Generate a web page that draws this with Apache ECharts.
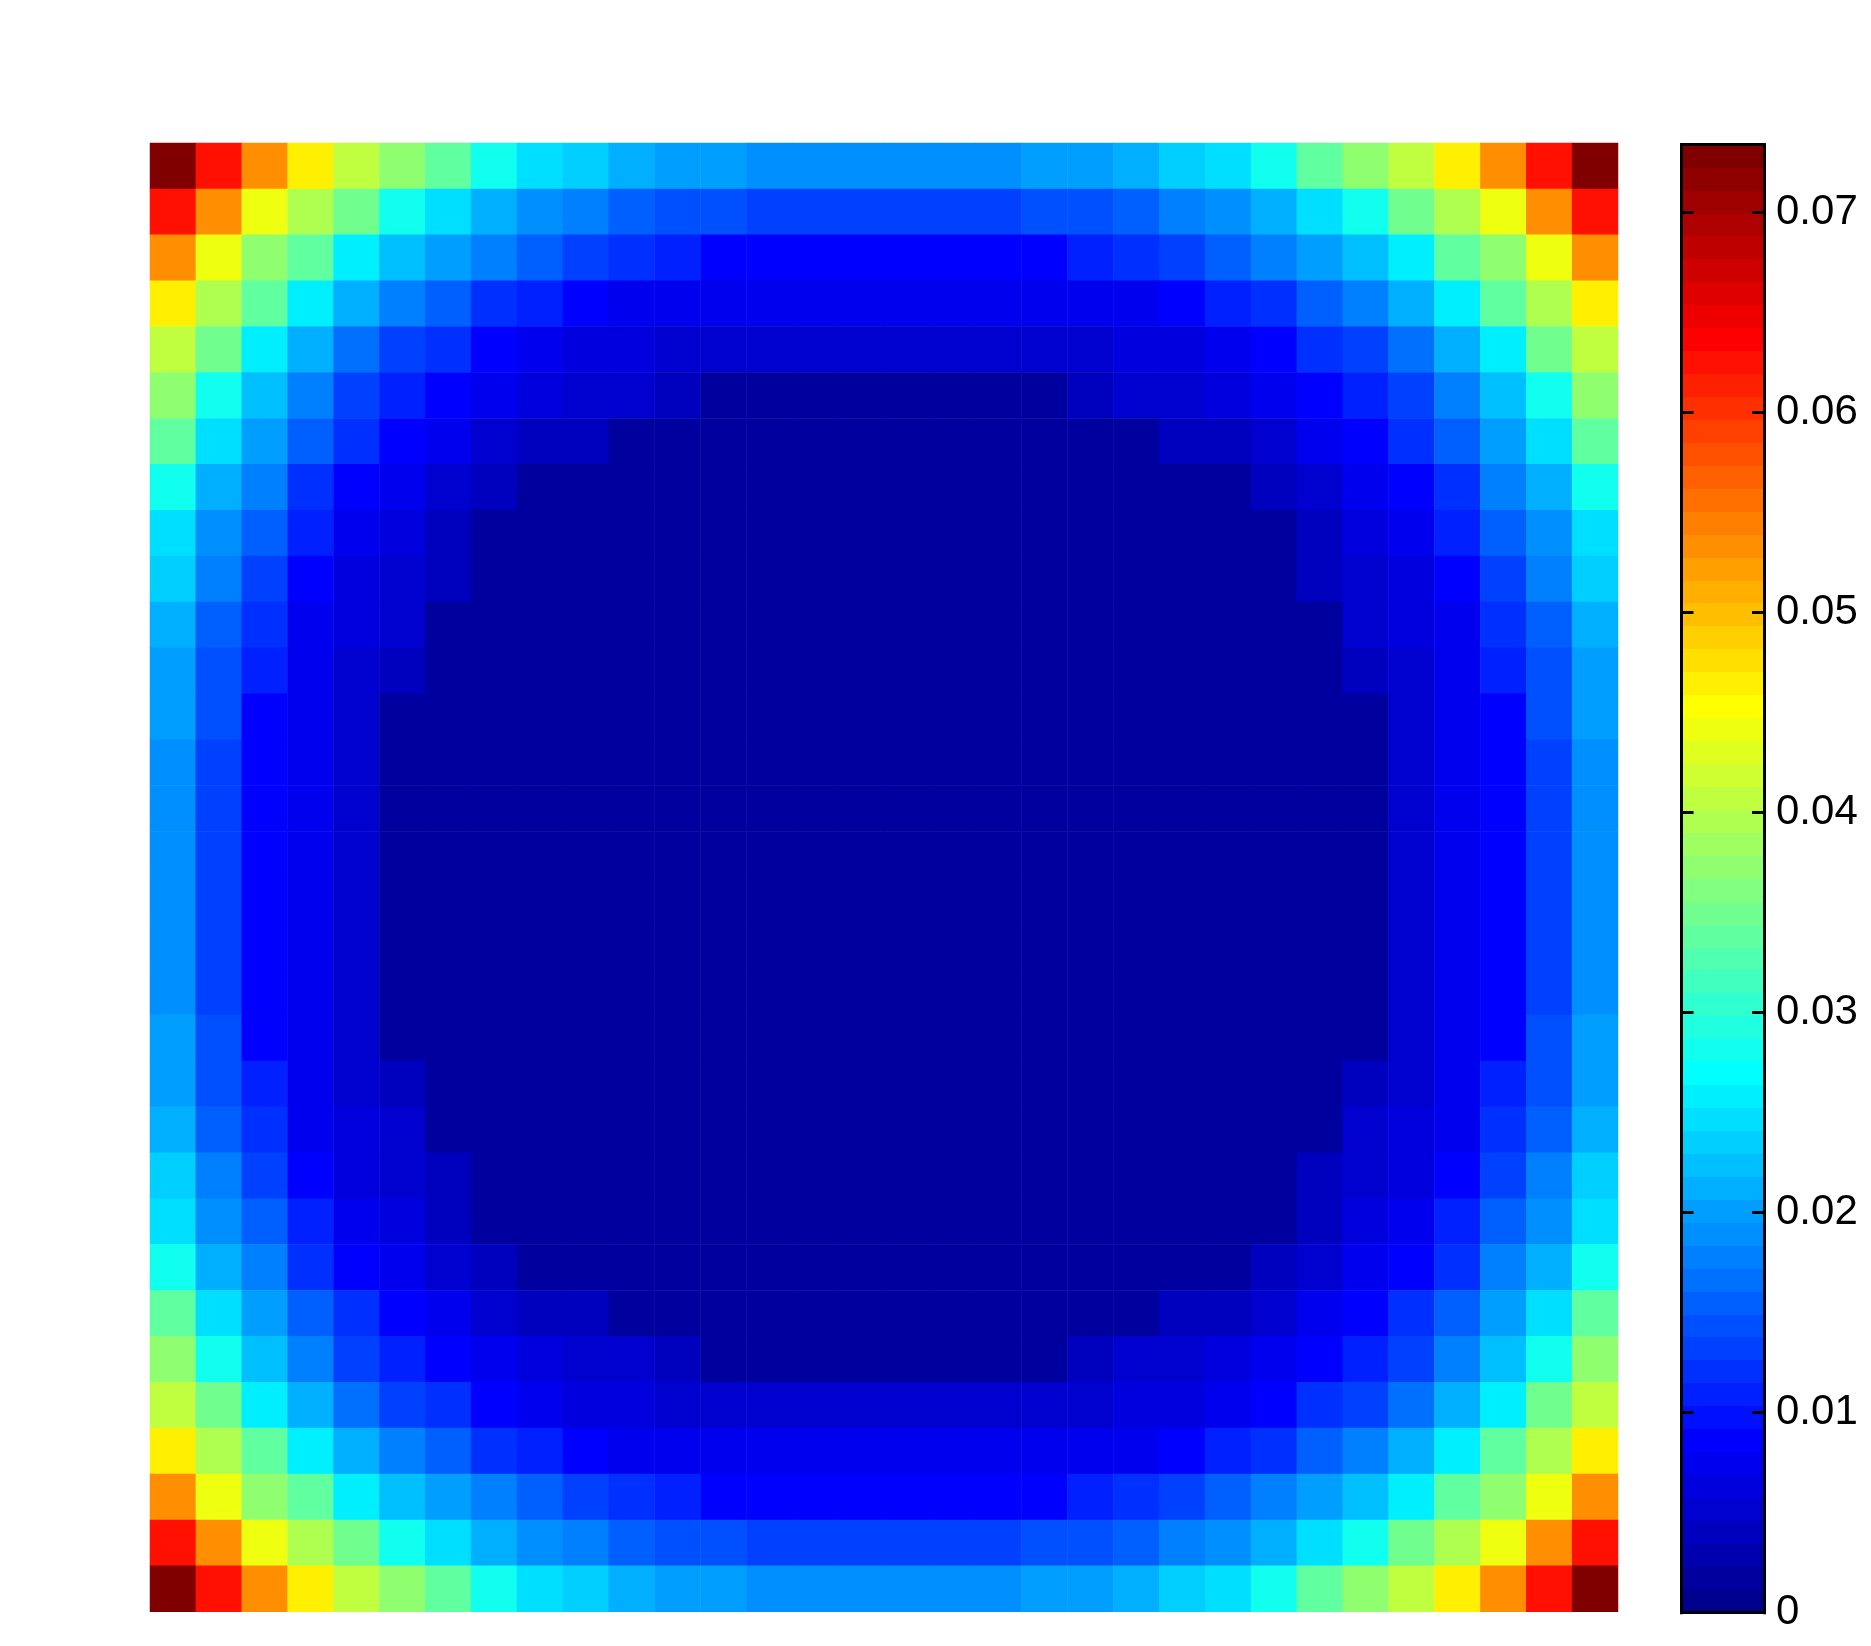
<!DOCTYPE html>
<html>
<head>
<meta charset="utf-8">
<title>Field</title>
<script src="https://cdn.jsdelivr.net/npm/echarts@6/dist/echarts.min.js"></script>
<style>
  html, body { margin: 0; padding: 0; background: #fff; }
  #chart { width: 1871px; height: 1646px; }
</style>
</head>
<body>
<div id="chart"></div>
<script>
// jet(64)
const jetColors = [
  "#00008f","#00009f","#0000af","#0000bf","#0000cf","#0000df","#0000ef","#0000ff",
  "#0010ff","#0020ff","#0030ff","#0040ff","#0050ff","#0060ff","#0070ff","#0080ff",
  "#008fff","#009fff","#00afff","#00bfff","#00cfff","#00dfff","#00efff","#00ffff",
  "#10ffef","#20ffdf","#30ffcf","#40ffbf","#50ffaf","#60ff9f","#70ff8f","#80ff80",
  "#8fff70","#9fff60","#afff50","#bfff40","#cfff30","#dfff20","#efff10","#ffff00",
  "#ffef00","#ffdf00","#ffcf00","#ffbf00","#ffaf00","#ff9f00","#ff8f00","#ff8000",
  "#ff7000","#ff6000","#ff5000","#ff4000","#ff3000","#ff2000","#ff1000","#ff0000",
  "#ef0000","#df0000","#cf0000","#bf0000","#af0000","#9f0000","#8f0000","#800000"
];
const colorMax = 0.0734;
const tickValues = [0, 0.01, 0.02, 0.03, 0.04, 0.05, 0.06, 0.07];
const cellIndex = ["0","1","2","3","4","5","6","7","8","9","10","11","12","13","14","15","16","17","18","19","20","21","22","23","24","25","26","27","28","29","30","31"];

// row 0 is the top row
const fieldRows = [
  [.0728,.0625,.0533,.0465,.0407,.0373,.0338,.0281,.0247,.0235,.0212,.0201,.0201,.0189,.0189,.0189,.0189,.0189,.0189,.0201,.0201,.0212,.0235,.0247,.0281,.0338,.0373,.0407,.0465,.0533,.0625,.0728],
  [.0625,.0533,.0442,.0396,.0350,.0281,.0247,.0212,.0189,.0178,.0155,.0143,.0143,.0132,.0132,.0132,.0132,.0132,.0132,.0143,.0143,.0155,.0178,.0189,.0212,.0247,.0281,.0350,.0396,.0442,.0533,.0625],
  [.0533,.0442,.0373,.0338,.0258,.0224,.0201,.0178,.0155,.0132,.0120,.0109,.0086,.0086,.0086,.0086,.0086,.0086,.0086,.0086,.0109,.0120,.0132,.0155,.0178,.0201,.0224,.0258,.0338,.0373,.0442,.0533],
  [.0465,.0396,.0338,.0258,.0212,.0178,.0155,.0120,.0109,.0086,.0075,.0075,.0075,.0075,.0075,.0075,.0075,.0075,.0075,.0075,.0075,.0075,.0086,.0109,.0120,.0155,.0178,.0212,.0258,.0338,.0396,.0465],
  [.0407,.0350,.0258,.0212,.0166,.0132,.0120,.0086,.0075,.0063,.0063,.0052,.0052,.0052,.0052,.0052,.0052,.0052,.0052,.0052,.0052,.0063,.0063,.0075,.0086,.0120,.0132,.0166,.0212,.0258,.0350,.0407],
  [.0373,.0281,.0224,.0178,.0132,.0109,.0086,.0075,.0063,.0052,.0052,.0040,.0017,.0017,.0017,.0017,.0017,.0017,.0017,.0017,.0040,.0052,.0052,.0063,.0075,.0086,.0109,.0132,.0178,.0224,.0281,.0373],
  [.0338,.0247,.0201,.0155,.0120,.0086,.0075,.0052,.0040,.0040,.0017,.0017,.0017,.0017,.0017,.0017,.0017,.0017,.0017,.0017,.0017,.0017,.0040,.0040,.0052,.0075,.0086,.0120,.0155,.0201,.0247,.0338],
  [.0281,.0212,.0178,.0120,.0086,.0075,.0052,.0040,.0017,.0017,.0017,.0017,.0017,.0017,.0017,.0017,.0017,.0017,.0017,.0017,.0017,.0017,.0017,.0017,.0040,.0052,.0075,.0086,.0120,.0178,.0212,.0281],
  [.0247,.0189,.0155,.0109,.0075,.0063,.0040,.0017,.0017,.0017,.0017,.0017,.0017,.0017,.0017,.0017,.0017,.0017,.0017,.0017,.0017,.0017,.0017,.0017,.0017,.0040,.0063,.0075,.0109,.0155,.0189,.0247],
  [.0235,.0178,.0132,.0086,.0063,.0052,.0040,.0017,.0017,.0017,.0017,.0017,.0017,.0017,.0017,.0017,.0017,.0017,.0017,.0017,.0017,.0017,.0017,.0017,.0017,.0040,.0052,.0063,.0086,.0132,.0178,.0235],
  [.0212,.0155,.0120,.0075,.0063,.0052,.0017,.0017,.0017,.0017,.0017,.0017,.0017,.0017,.0017,.0017,.0017,.0017,.0017,.0017,.0017,.0017,.0017,.0017,.0017,.0017,.0052,.0063,.0075,.0120,.0155,.0212],
  [.0201,.0143,.0109,.0075,.0052,.0040,.0017,.0017,.0017,.0017,.0017,.0017,.0017,.0017,.0017,.0017,.0017,.0017,.0017,.0017,.0017,.0017,.0017,.0017,.0017,.0017,.0040,.0052,.0075,.0109,.0143,.0201],
  [.0201,.0143,.0086,.0075,.0052,.0017,.0017,.0017,.0017,.0017,.0017,.0017,.0017,.0017,.0017,.0017,.0017,.0017,.0017,.0017,.0017,.0017,.0017,.0017,.0017,.0017,.0017,.0052,.0075,.0086,.0143,.0201],
  [.0189,.0132,.0086,.0075,.0052,.0017,.0017,.0017,.0017,.0017,.0017,.0017,.0017,.0017,.0017,.0017,.0017,.0017,.0017,.0017,.0017,.0017,.0017,.0017,.0017,.0017,.0017,.0052,.0075,.0086,.0132,.0189],
  [.0189,.0132,.0086,.0075,.0052,.0017,.0017,.0017,.0017,.0017,.0017,.0017,.0017,.0017,.0017,.0017,.0017,.0017,.0017,.0017,.0017,.0017,.0017,.0017,.0017,.0017,.0017,.0052,.0075,.0086,.0132,.0189],
  [.0189,.0132,.0086,.0075,.0052,.0017,.0017,.0017,.0017,.0017,.0017,.0017,.0017,.0017,.0017,.0017,.0017,.0017,.0017,.0017,.0017,.0017,.0017,.0017,.0017,.0017,.0017,.0052,.0075,.0086,.0132,.0189],
  [.0189,.0132,.0086,.0075,.0052,.0017,.0017,.0017,.0017,.0017,.0017,.0017,.0017,.0017,.0017,.0017,.0017,.0017,.0017,.0017,.0017,.0017,.0017,.0017,.0017,.0017,.0017,.0052,.0075,.0086,.0132,.0189],
  [.0189,.0132,.0086,.0075,.0052,.0017,.0017,.0017,.0017,.0017,.0017,.0017,.0017,.0017,.0017,.0017,.0017,.0017,.0017,.0017,.0017,.0017,.0017,.0017,.0017,.0017,.0017,.0052,.0075,.0086,.0132,.0189],
  [.0189,.0132,.0086,.0075,.0052,.0017,.0017,.0017,.0017,.0017,.0017,.0017,.0017,.0017,.0017,.0017,.0017,.0017,.0017,.0017,.0017,.0017,.0017,.0017,.0017,.0017,.0017,.0052,.0075,.0086,.0132,.0189],
  [.0201,.0143,.0086,.0075,.0052,.0017,.0017,.0017,.0017,.0017,.0017,.0017,.0017,.0017,.0017,.0017,.0017,.0017,.0017,.0017,.0017,.0017,.0017,.0017,.0017,.0017,.0017,.0052,.0075,.0086,.0143,.0201],
  [.0201,.0143,.0109,.0075,.0052,.0040,.0017,.0017,.0017,.0017,.0017,.0017,.0017,.0017,.0017,.0017,.0017,.0017,.0017,.0017,.0017,.0017,.0017,.0017,.0017,.0017,.0040,.0052,.0075,.0109,.0143,.0201],
  [.0212,.0155,.0120,.0075,.0063,.0052,.0017,.0017,.0017,.0017,.0017,.0017,.0017,.0017,.0017,.0017,.0017,.0017,.0017,.0017,.0017,.0017,.0017,.0017,.0017,.0017,.0052,.0063,.0075,.0120,.0155,.0212],
  [.0235,.0178,.0132,.0086,.0063,.0052,.0040,.0017,.0017,.0017,.0017,.0017,.0017,.0017,.0017,.0017,.0017,.0017,.0017,.0017,.0017,.0017,.0017,.0017,.0017,.0040,.0052,.0063,.0086,.0132,.0178,.0235],
  [.0247,.0189,.0155,.0109,.0075,.0063,.0040,.0017,.0017,.0017,.0017,.0017,.0017,.0017,.0017,.0017,.0017,.0017,.0017,.0017,.0017,.0017,.0017,.0017,.0017,.0040,.0063,.0075,.0109,.0155,.0189,.0247],
  [.0281,.0212,.0178,.0120,.0086,.0075,.0052,.0040,.0017,.0017,.0017,.0017,.0017,.0017,.0017,.0017,.0017,.0017,.0017,.0017,.0017,.0017,.0017,.0017,.0040,.0052,.0075,.0086,.0120,.0178,.0212,.0281],
  [.0338,.0247,.0201,.0155,.0120,.0086,.0075,.0052,.0040,.0040,.0017,.0017,.0017,.0017,.0017,.0017,.0017,.0017,.0017,.0017,.0017,.0017,.0040,.0040,.0052,.0075,.0086,.0120,.0155,.0201,.0247,.0338],
  [.0373,.0281,.0224,.0178,.0132,.0109,.0086,.0075,.0063,.0052,.0052,.0040,.0017,.0017,.0017,.0017,.0017,.0017,.0017,.0017,.0040,.0052,.0052,.0063,.0075,.0086,.0109,.0132,.0178,.0224,.0281,.0373],
  [.0407,.0350,.0258,.0212,.0166,.0132,.0120,.0086,.0075,.0063,.0063,.0052,.0052,.0052,.0052,.0052,.0052,.0052,.0052,.0052,.0052,.0063,.0063,.0075,.0086,.0120,.0132,.0166,.0212,.0258,.0350,.0407],
  [.0465,.0396,.0338,.0258,.0212,.0178,.0155,.0120,.0109,.0086,.0075,.0075,.0075,.0075,.0075,.0075,.0075,.0075,.0075,.0075,.0075,.0075,.0086,.0109,.0120,.0155,.0178,.0212,.0258,.0338,.0396,.0465],
  [.0533,.0442,.0373,.0338,.0258,.0224,.0201,.0178,.0155,.0132,.0120,.0109,.0086,.0086,.0086,.0086,.0086,.0086,.0086,.0086,.0109,.0120,.0132,.0155,.0178,.0201,.0224,.0258,.0338,.0373,.0442,.0533],
  [.0625,.0533,.0442,.0396,.0350,.0281,.0247,.0212,.0189,.0178,.0155,.0143,.0143,.0132,.0132,.0132,.0132,.0132,.0132,.0143,.0143,.0155,.0178,.0189,.0212,.0247,.0281,.0350,.0396,.0442,.0533,.0625],
  [.0728,.0625,.0533,.0465,.0407,.0373,.0338,.0281,.0247,.0235,.0212,.0201,.0201,.0189,.0189,.0189,.0189,.0189,.0189,.0201,.0201,.0212,.0235,.0247,.0281,.0338,.0373,.0407,.0465,.0533,.0625,.0728]
];

const levelStep = colorMax / jetColors.length;
const fieldData = [];
fieldRows.forEach((row, r) => {
  row.forEach((v, c) => fieldData.push([c, r, v]));
});

const myChart = echarts.init(document.getElementById("chart"));
const frameAxis = {
  type: "value",
  gridIndex: 1,
  min: 0,
  max: 1,
  axisLine: { show: true, onZero: false, lineStyle: { color: "#000", width: 3, cap: "square" } },
  axisTick: { show: false },
  axisLabel: { show: false },
  splitLine: { show: false },
  z: 10
};
const barAxis = {
  type: "value",
  gridIndex: 1,
  min: 0,
  max: colorMax,
  axisLine: { show: true, onZero: false, lineStyle: { color: "#000", width: 3, cap: "square" } },
  axisTick: {
    show: true,
    inside: true,
    length: 12,
    customValues: tickValues,
    lineStyle: { color: "#000", width: 3 }
  },
  splitLine: { show: false },
  z: 10
};

const option = {
  animation: false,
  backgroundColor: "#fff",
  textStyle: { fontFamily: "Liberation Sans" },
  tooltip: { show: false },
  grid: [
    { left: 150, top: 143, width: 1468, height: 1468.7 },
    { left: 1681.5, top: 144.7, width: 82.5, height: 1468 }
  ],
  xAxis: [
    { type: "category", gridIndex: 0, data: cellIndex, show: false },
    Object.assign({}, frameAxis, { position: "bottom" }),
    Object.assign({}, frameAxis, { position: "top" })
  ],
  yAxis: [
    { type: "category", gridIndex: 0, data: cellIndex, inverse: true, show: false },
    Object.assign({}, barAxis, {
      position: "right",
      axisLabel: {
        show: true,
        customValues: tickValues,
        margin: 12,
        padding: [7, 0, 0, 0],
        color: "#000",
        fontSize: 42,
        fontFamily: "Liberation Sans",
        formatter: (v) => String(v)
      }
    }),
    Object.assign({}, barAxis, { position: "left", axisLabel: { show: false } })
  ],
  visualMap: {
    show: false,
    type: "piecewise",
    seriesIndex: 0,
    dimension: 2,
    pieces: jetColors.map((color, i) => ({ min: i * levelStep, max: (i + 1) * levelStep, color: color }))
  },
  series: [
    {
      type: "heatmap",
      xAxisIndex: 0,
      yAxisIndex: 0,
      data: fieldData,
      progressive: 0,
      silent: true,
      emphasis: { disabled: true }
    },
    {
      type: "custom",
      xAxisIndex: 1,
      yAxisIndex: 1,
      silent: true,
      clip: true,
      data: jetColors.map((color, i) => [i * levelStep, (i + 1) * levelStep]),
      renderItem: function (params, api) {
        const p0 = api.coord([0, api.value(0)]);
        const p1 = api.coord([1, api.value(1)]);
        const top = Math.round(p1[1]);
        const bottom = Math.round(p0[1]);
        return {
          type: "rect",
          shape: { x: p0[0], y: top, width: p1[0] - p0[0], height: bottom - top },
          style: { fill: jetColors[params.dataIndex] }
        };
      }
    }
  ]
};
myChart.setOption(option);
window.addEventListener("resize", function () {
  myChart.resize();
});
</script>
</body>
</html>
